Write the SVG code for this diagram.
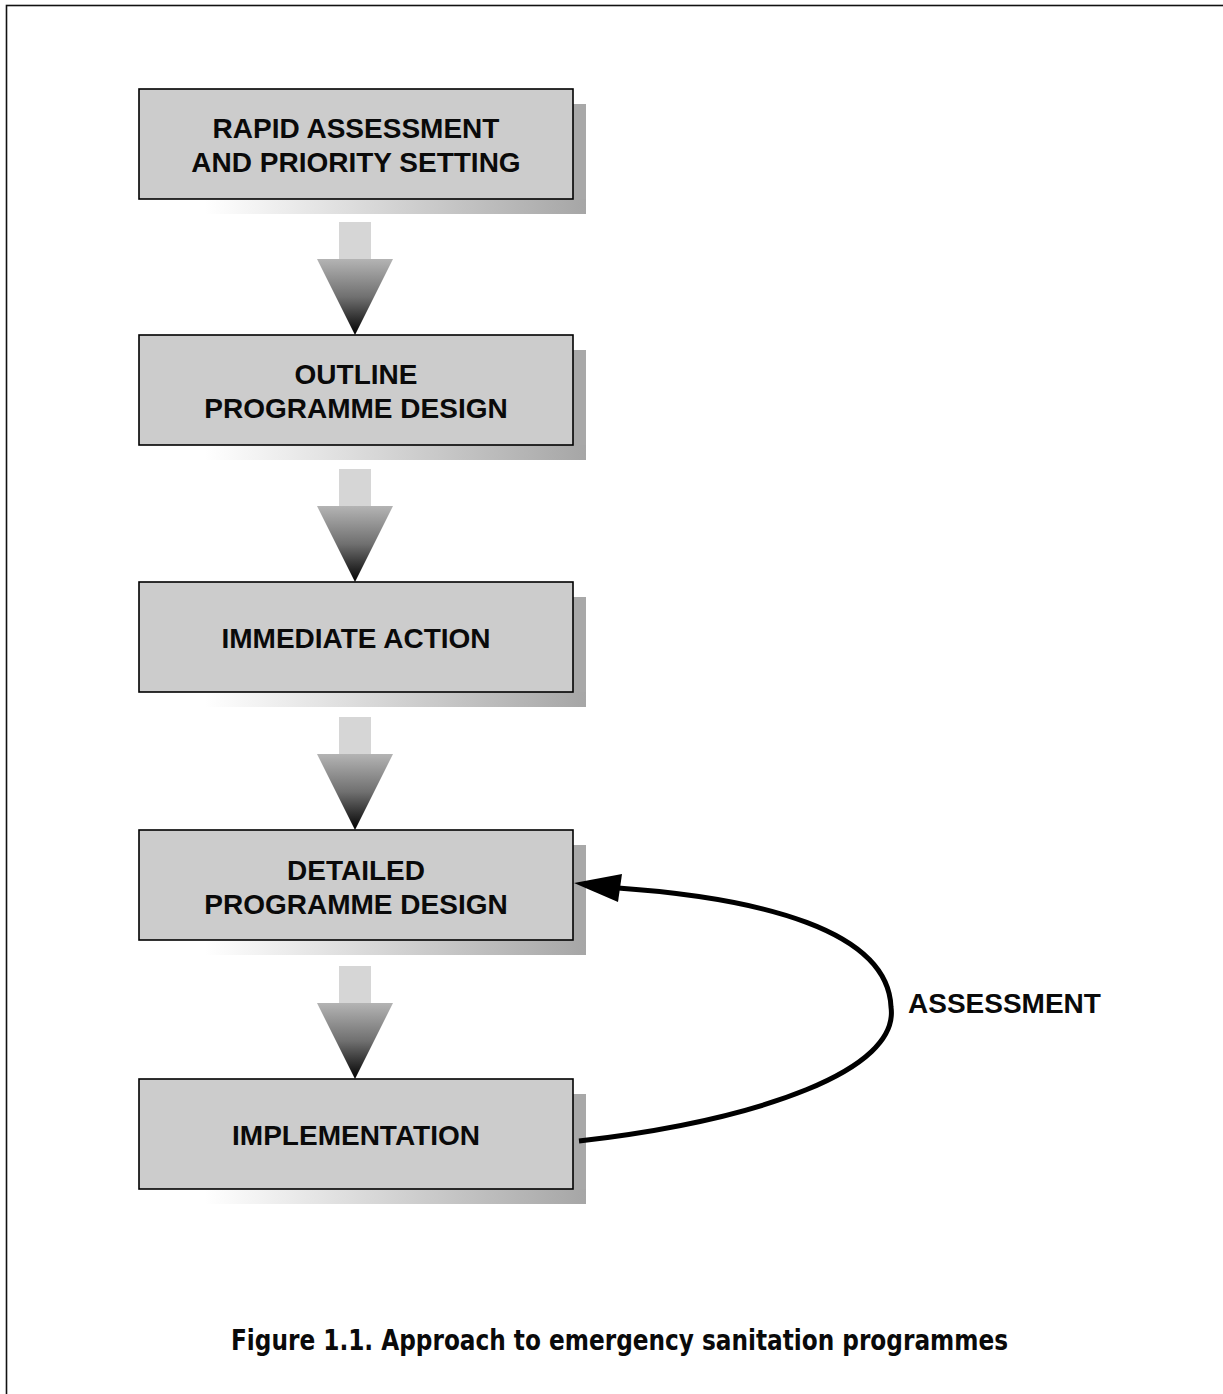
<svg xmlns="http://www.w3.org/2000/svg" width="1223" height="1394" viewBox="0 0 1223 1394">
<style>
.box{fill:#cccccc;stroke:#000;stroke-width:1.6}
.shr{fill:#a8a8a8}
.shb{fill:url(#shgrad)}
.lbl{font-family:"Liberation Sans",Arial,sans-serif;font-weight:bold;font-size:28px;fill:#0a0a0a;text-anchor:middle}
.shaft{fill:#d6d6d6}
.tri{fill:url(#trigrad)}
</style>
<defs>
<linearGradient id="shgrad" gradientUnits="userSpaceOnUse" x1="205" y1="0" x2="586" y2="0">
<stop offset="0" stop-color="#ffffff"/>
<stop offset="1" stop-color="#a6a6a6"/>
</linearGradient>
<linearGradient id="trigrad" x1="0" y1="0" x2="0" y2="1">
<stop offset="0" stop-color="#b4b4b4"/>
<stop offset="0.5" stop-color="#707070"/>
<stop offset="1" stop-color="#000000"/>
</linearGradient>
<g id="downarrow">
<rect class="shaft" x="-16" y="0" width="32" height="37"/>
<polygon class="tri" points="-38,37 38,37 0,113"/>
</g>
</defs>
<rect width="1223" height="1394" fill="#fff"/>
<rect x="6.5" y="5.5" width="1240" height="1420" fill="none" stroke="#111" stroke-width="1.6"/>

<g id="node1">
<rect class="shr" x="573" y="104" width="13" height="110"/>
<rect class="shb" x="152" y="199" width="434" height="15"/>
<rect class="box" x="139" y="89" width="434" height="110"/>
<text class="lbl" x="356" y="138">RAPID ASSESSMENT</text>
<text class="lbl" x="356" y="172">AND PRIORITY SETTING</text>
</g>
<g id="node2">
<rect class="shr" x="573" y="350" width="13" height="110"/>
<rect class="shb" x="152" y="445" width="434" height="15"/>
<rect class="box" x="139" y="335" width="434" height="110"/>
<text class="lbl" x="356" y="384">OUTLINE</text>
<text class="lbl" x="356" y="418">PROGRAMME DESIGN</text>
</g>
<g id="node3">
<rect class="shr" x="573" y="597" width="13" height="110"/>
<rect class="shb" x="152" y="692" width="434" height="15"/>
<rect class="box" x="139" y="582" width="434" height="110"/>
<text class="lbl" x="356" y="648">IMMEDIATE ACTION</text>
</g>
<g id="node4">
<rect class="shr" x="573" y="845" width="13" height="110"/>
<rect class="shb" x="152" y="940" width="434" height="15"/>
<rect class="box" x="139" y="830" width="434" height="110"/>
<text class="lbl" x="356" y="880">DETAILED</text>
<text class="lbl" x="356" y="914">PROGRAMME DESIGN</text>
</g>
<g id="node5">
<rect class="shr" x="573" y="1094" width="13" height="110"/>
<rect class="shb" x="152" y="1189" width="434" height="15"/>
<rect class="box" x="139" y="1079" width="434" height="110"/>
<text class="lbl" x="356" y="1145">IMPLEMENTATION</text>
</g>

<g id="connectors">
<use href="#downarrow" x="355" y="222"/>
<use href="#downarrow" x="355" y="469"/>
<use href="#downarrow" x="355" y="717"/>
<use href="#downarrow" x="355" y="966"/>
<path d="M 579 1141 C 760 1120, 900 1070, 891 1007 C 888 930, 760 898, 618 888" fill="none" stroke="#000" stroke-width="5"/>
<polygon points="574,883 622,874 618,902" fill="#000"/>
<text class="lbl" x="908" y="1013" style="text-anchor:start">ASSESSMENT</text>
</g>

<text x="231" y="1350" font-family="'Liberation Sans Narrow','DejaVu Sans Condensed','Liberation Sans',sans-serif" font-weight="bold" font-size="28" fill="#0a0a0a" textLength="777" lengthAdjust="spacingAndGlyphs">Figure 1.1. Approach to emergency sanitation programmes</text>
</svg>
